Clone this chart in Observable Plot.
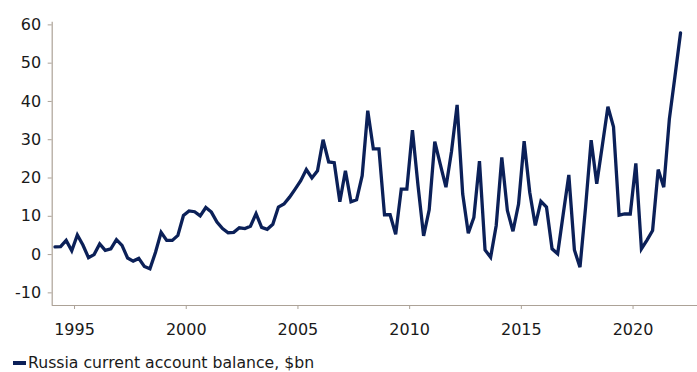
<!DOCTYPE html>
<html>
<head>
<meta charset="utf-8">
<script src="https://cdn.jsdelivr.net/npm/d3@7"></script>
<script src="https://cdn.jsdelivr.net/npm/@observablehq/plot@0.6"></script>
<style>
  html, body { margin: 0; padding: 0; background: #fff; }
  #wrap { position: relative; width: 697px; height: 372px; overflow: hidden; }
  #legend {
    position: absolute; left: 13px; top: 354px;
    display: flex; align-items: center;
    font-family: "DejaVu Sans", sans-serif; font-size: 15.7px; color: #1a1a1a;
    line-height: 18px; white-space: nowrap;
  }
  #legend .swatch { width: 13px; height: 4px; background: #0b2058; margin-right: 2px; }
</style>
</head>
<body>
<div id="wrap">
  <div id="chart"></div>
  <div id="legend"><span class="swatch"></span><span>Russia current account balance, $bn</span></div>
</div>
<script>
// Russia current account balance, quarterly, $bn (1994 Q1 onwards)
const startYear = 1994;
const balance = [
  2.0, 2.1, 3.7, 1.0,      // 1994
  5.1, 2.5, -0.8, 0.0,     // 1995
  2.8, 1.1, 1.5, 3.9,      // 1996
  2.4, -0.9, -1.7, -1.0,   // 1997
  -3.1, -3.7, 0.6, 5.8,    // 1998
  3.7, 3.7, 5.0, 10.2,     // 1999
  11.4, 11.2, 10.1, 12.3,  // 2000
  11.1, 8.5, 6.8, 5.7,     // 2001
  5.8, 7.0, 6.8, 7.4,      // 2002
  10.7, 7.1, 6.6, 7.9,     // 2003
  12.4, 13.2, 15.0, 17.1,  // 2004
  19.3, 22.2, 20.0, 21.9,  // 2005
  30.0, 24.2, 24.0, 13.8,  // 2006
  21.9, 13.8, 14.3, 20.6,  // 2007
  37.6, 27.6, 27.6, 10.4,  // 2008
  10.4, 5.3, 17.1, 17.1,   // 2009
  32.5, 18.0, 4.9, 11.7,   // 2010
  29.5, 23.5, 17.6, 27.0,  // 2011
  39.1, 15.8, 5.6, 9.7,    // 2012
  24.4, 1.2, -0.7, 7.6,    // 2013
  25.4, 11.5, 6.1, 13.2,   // 2014
  29.6, 16.3, 7.6, 13.9,   // 2015
  12.4, 1.5, 0.2, 10.6,    // 2016
  20.8, 1.2, -3.3, 12.4,   // 2017
  29.9, 18.5, 28.5, 38.6,  // 2018
  33.4, 10.3, 10.6, 10.6,  // 2019
  23.8, 1.5, 3.8, 6.3,     // 2020
  22.2, 17.6, 35.4, 46.5,  // 2021
  57.9                     // 2022
];
const yearTicks = [1995, 2000, 2005, 2010, 2015, 2020];
const valueTicks = [-10, 0, 10, 20, 30, 40, 50, 60];

// each quarter sits at the middle of its quarter on a continuous year axis
const rows = balance.map((v, i) => ({
  t: startYear + Math.floor(i / 4) + ((i % 4) + 0.5) / 4,
  value: v
}));

const xDomain = [1994, 2022.885];
const yDomain = [-13.3, 60.7];
const axisColor = "#aca297";
const lineColor = "#0b2058";

const chart = Plot.plot({
  width: 697,
  height: 345,
  marginLeft: 51.7,
  marginRight: 0,
  marginTop: 21.7,
  marginBottom: 40,
  style: { fontFamily: "DejaVu Sans, sans-serif", fontSize: "16px", color: "#1a1a1a", background: "#fff" },
  x: { domain: xDomain },
  y: { domain: yDomain },
  marks: [
    Plot.axisY({
      ticks: valueTicks, tickSize: 4, tickPadding: 7, stroke: axisColor,
      tickFormat: d => String(d), label: null
    }),
    Plot.axisX({
      ticks: yearTicks, tickSize: 4, tickPadding: 14, stroke: axisColor,
      tickFormat: d => String(d), label: null
    }),
    Plot.ruleX([xDomain[0]], { y1: yDomain[0], y2: yDomain[1], stroke: axisColor, strokeWidth: 1.2 }),
    Plot.ruleY([yDomain[0]], { stroke: axisColor, strokeWidth: 1.2 }),
    Plot.line(rows, {
      x: "t", y: "value", stroke: lineColor, strokeWidth: 3.3,
      strokeLinejoin: "miter", strokeMiterlimit: 4, curve: "linear"
    })
  ]
});
document.getElementById("chart").appendChild(chart);
</script>
</body>
</html>
